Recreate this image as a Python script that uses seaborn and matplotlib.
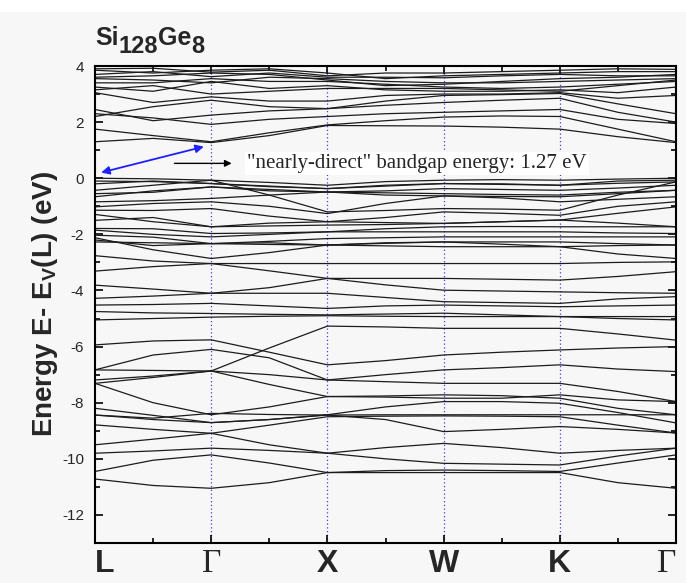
import numpy as np
import pandas as pd
import matplotlib
matplotlib.use("Agg")
import matplotlib.pyplot as plt
import seaborn as sns

# k-path: high-symmetry points and the sample positions along it
k_labels = ["L", "Γ", "X", "W", "K", "Γ"]
k_samples = [0, 0.5, 1, 1.5, 2, 2.5, 3, 3.5, 4, 4.5, 5]

# energies (eV) at L, mid, Γ, mid, X, mid, W, mid, K, mid, Γ
conduction = [
    [1.30, 1.42, 1.27, 1.52, 1.88, 1.87, 1.86, 1.82, 1.75, 1.48, 1.27],
    [1.75, 1.52, 1.30, 1.62, 1.90, 2.05, 2.18, 2.22, 2.20, 1.75, 1.30],
    [2.30, 2.15, 1.92, 2.10, 2.20, 2.30, 2.35, 2.40, 2.45, 2.10, 1.95],
    [2.45, 2.05, 2.25, 2.40, 2.48, 2.60, 2.70, 2.78, 2.85, 2.35, 2.00],
    [2.20, 2.55, 2.78, 2.55, 2.48, 2.75, 2.95, 2.98, 3.02, 2.65, 2.30],
    [3.05, 2.70, 2.90, 2.75, 2.75, 2.95, 3.00, 3.00, 3.05, 2.85, 2.95],
    [3.15, 3.30, 3.00, 3.10, 3.20, 3.20, 3.20, 3.15, 3.10, 3.30, 3.50],
    [3.25, 3.10, 3.45, 3.20, 3.30, 3.15, 3.10, 3.10, 3.15, 3.05, 3.25],
    [3.40, 3.40, 3.55, 3.45, 3.45, 3.35, 3.25, 3.20, 3.25, 3.35, 3.45],
    [3.55, 3.50, 3.40, 3.60, 3.55, 3.45, 3.40, 3.40, 3.45, 3.50, 3.55],
    [3.60, 3.65, 3.75, 3.70, 3.50, 3.30, 3.35, 3.45, 3.55, 3.60, 3.70],
    [3.70, 3.80, 3.62, 3.75, 3.60, 3.60, 3.58, 3.65, 3.70, 3.65, 3.65],
    [3.85, 3.75, 3.85, 3.90, 3.75, 3.55, 3.65, 3.70, 3.75, 3.80, 3.80],
    [3.90, 3.92, 3.78, 3.85, 3.65, 3.75, 3.75, 3.80, 3.85, 3.90, 3.88],
]

valence_top = [
    [0.00, -0.02, -0.07, -0.15, -0.25, -0.12, -0.07, -0.05, -0.07, -0.03, 0.00],
    [-0.10, -0.12, -0.19, -0.30, -0.37, -0.28, -0.19, -0.22, -0.25, -0.18, -0.13],
    [-0.20, -0.10, -0.19, -0.28, -0.37, -0.25, -0.19, -0.20, -0.25, -0.10, -0.07],
    [-0.43, -0.25, -0.07, -0.60, -1.20, -1.15, -1.08, -1.10, -1.14, -0.60, -0.13],
    [-0.55, -0.50, -0.31, -0.45, -0.49, -0.60, -0.63, -0.65, -0.66, -0.55, -0.43],
    [-0.66, -0.45, -0.31, -0.40, -0.49, -0.45, -0.37, -0.40, -0.43, -0.35, -0.25],
    [-0.84, -0.80, -0.72, -0.60, -0.49, -0.52, -0.55, -0.58, -0.60, -0.50, -0.43],
    [-1.02, -0.90, -0.84, -1.00, -1.26, -0.90, -0.63, -0.70, -0.84, -0.75, -0.66],
    [-1.14, -1.15, -1.08, -1.35, -1.55, -1.40, -1.20, -1.25, -1.32, -1.00, -0.84],
    [-1.29, -1.55, -1.73, -1.70, -1.67, -1.65, -1.61, -1.55, -1.49, -1.25, -1.02],
    [-1.50, -1.40, -1.73, -1.60, -1.55, -1.58, -1.61, -1.55, -1.49, -1.60, -1.73],
    [-1.79, -1.80, -1.97, -1.95, -1.91, -1.80, -1.73, -1.72, -1.73, -1.73, -1.73],
    [-1.85, -2.00, -2.09, -2.00, -1.91, -1.91, -1.91, -1.91, -1.91, -1.95, -1.97],
    [-2.03, -2.10, -2.33, -2.25, -2.15, -2.12, -2.09, -2.09, -2.09, -2.09, -2.09],
    [-2.12, -2.55, -2.86, -2.65, -2.38, -2.32, -2.27, -2.27, -2.27, -2.33, -2.38],
    [-2.20, -2.40, -2.33, -2.30, -2.38, -2.30, -2.27, -2.35, -2.44, -2.40, -2.38],
    [-2.27, -2.30, -2.33, -2.36, -2.38, -2.41, -2.44, -2.44, -2.44, -2.70, -2.86],
    [-2.76, -2.95, -3.04, -3.04, -3.04, -3.04, -3.04, -3.04, -3.04, -3.00, -2.98],
    [-3.31, -3.15, -3.04, -3.30, -3.57, -3.57, -3.57, -3.60, -3.63, -3.50, -3.33],
    [-3.81, -3.95, -4.10, -3.90, -3.57, -3.80, -3.99, -4.02, -4.05, -4.08, -4.10],
    [-4.28, -4.20, -4.10, -4.10, -4.10, -4.25, -4.40, -4.43, -4.46, -4.30, -4.22],
]

valence_mid = [
    [-4.52, -4.50, -4.46, -4.55, -4.64, -4.55, -4.52, -4.55, -4.58, -4.55, -4.52],
    [-4.75, -4.80, -4.82, -4.85, -4.87, -4.84, -4.81, -4.87, -4.93, -4.93, -4.93],
    [-5.05, -5.00, -4.95, -4.92, -4.90, -4.92, -4.93, -4.93, -4.93, -5.00, -5.05],
    [-5.94, -5.80, -5.76, -6.20, -6.65, -6.50, -6.30, -6.20, -6.12, -6.05, -6.00],
    [-6.83, -6.30, -6.10, -6.40, -7.19, -7.00, -6.83, -6.75, -6.65, -6.80, -6.89],
    [-7.31, -7.10, -6.87, -6.05, -5.27, -5.30, -5.35, -5.35, -5.35, -5.55, -5.77],
    [-6.83, -6.85, -6.87, -7.00, -7.19, -7.25, -7.31, -7.31, -7.31, -7.60, -7.96],
    [-7.19, -7.05, -6.87, -7.35, -7.78, -7.80, -7.84, -7.84, -7.72, -7.90, -7.96],
    [-7.31, -8.00, -8.43, -8.15, -7.78, -7.76, -7.72, -7.75, -7.84, -8.20, -8.43],
]

valence_low = [
    [-8.20, -8.45, -8.71, -8.60, -8.43, -8.15, -7.96, -7.96, -8.02, -8.35, -8.72],
    [-8.44, -8.55, -8.38, -8.42, -8.44, -8.43, -8.43, -8.43, -8.43, -8.43, -8.43],
    [-8.44, -8.60, -8.71, -8.60, -8.44, -8.60, -9.03, -8.95, -8.85, -8.95, -9.08],
    [-8.79, -8.95, -9.09, -9.50, -9.80, -9.60, -9.45, -9.60, -9.80, -9.70, -9.62],
    [-9.50, -9.30, -9.09, -8.80, -8.50, -8.48, -8.47, -8.48, -8.50, -8.80, -9.08],
    [-9.80, -9.72, -9.62, -9.70, -9.80, -10.00, -10.16, -10.19, -10.22, -9.90, -9.62],
    [-10.45, -10.05, -9.86, -10.15, -10.49, -10.42, -10.40, -10.42, -10.45, -10.15, -9.86],
    [-10.72, -10.95, -11.05, -10.85, -10.49, -10.49, -10.49, -10.49, -10.49, -10.85, -11.05],
]

GAP_TEXT = '"nearly-direct" bandgap energy: 1.27 eV'
BG = "#f7f7f7"

# long table for seaborn: one row per (band, k)
rows = []
for name, group in [("c", conduction), ("vt", valence_top), ("vm", valence_mid), ("vl", valence_low)]:
    for i, band in enumerate(group):
        for k, e in zip(k_samples, band):
            rows.append((f"{name}{i}", k, e))
df = pd.DataFrame(rows, columns=["band", "k", "E"])

sns.set_theme(style="ticks")
plt.rcParams["font.family"] = ["Liberation Sans", "DejaVu Sans"]
plt.rcParams["axes.unicode_minus"] = False
plt.rcParams["mathtext.fontset"] = "custom"
plt.rcParams["mathtext.bf"] = "Liberation Sans:bold"
plt.rcParams["mathtext.rm"] = "Liberation Sans"

fig = plt.figure(figsize=(6.86, 5.83), dpi=100, facecolor=BG)
ax = fig.add_axes([95 / 686, 1 - 543 / 583, 581 / 686, 477 / 583])
ax.set_facecolor(BG)

# dotted guides at the inner k-points
for k in range(1, 5):
    ax.axvline(k, color="#3b3bff", ls=(0, (1, 2)), lw=0.9, zorder=0)

sns.lineplot(data=df, x="k", y="E", units="band", estimator=None,
             color="#1c1c1c", lw=0.9, legend=False, ax=ax)

ax.set_xlim(0, 5)
ax.set_ylim(-13, 4)
ax.set_xticks(range(6))
ax.set_xticklabels(k_labels)
ax.set_xticks([0.5, 1.5, 2.5, 3.5, 4.5], minor=True)
ax.set_yticks(range(-12, 5, 2))
ax.set_yticklabels([str(v) for v in range(-12, 5, 2)])
ax.set_yticks(range(-13, 4, 2), minor=True)
ax.set_xlabel("")
ax.set_ylabel("Energy E- E$_\\mathbf{V}$(L) (eV)", fontsize=20, fontweight="bold")
ax.yaxis.set_label_coords(-0.06, 0.5)

ax.tick_params(which="both", direction="in", top=True, right=True, width=1.2, color="black")
ax.tick_params(which="major", length=6)
ax.tick_params(which="minor", length=3.5)
ax.tick_params(axis="y", labelsize=11, pad=8)
ax.tick_params(axis="x", labelsize=23, pad=4)
xlabs = ax.get_xticklabels()
for lab in xlabs:
    if lab.get_text() == "Γ":
        lab.set_fontfamily("Liberation Serif")
        lab.set_fontsize(24)
    else:
        lab.set_fontweight("bold")
xlabs[0].set_horizontalalignment("left")
xlabs[-1].set_horizontalalignment("right")
for sp in ax.spines.values():
    sp.set_linewidth(1.5)
    sp.set_color("black")

# gap annotation
ax.annotate("", xy=(0.03, 0.18), xytext=(0.96, 1.15),
            arrowprops=dict(arrowstyle="<|-|>", color="#1f1fff", lw=1.3, mutation_scale=12))
ax.annotate("", xy=(1.20, 0.53), xytext=(0.66, 0.53),
            arrowprops=dict(arrowstyle="-|>", color="black", lw=1, mutation_scale=10))
ax.text(1.31, 0.53, GAP_TEXT, family="Liberation Serif", fontsize=15, va="center",
        bbox=dict(fc="white", ec="none", pad=1.5))

# title Si128Ge8, subscripts nearly full size
t1 = fig.text(95 / 686, 1 - 45 / 583, "Si", fontsize=18, fontweight="bold", va="baseline")
t2 = ax.annotate("128", xy=(1, 0), xycoords=t1, xytext=(0, -6), textcoords="offset points",
                 fontsize=17, fontweight="bold", va="bottom", annotation_clip=False)
t3 = ax.annotate("Ge", xy=(1, 0), xycoords=t2, xytext=(0, 6), textcoords="offset points",
                 fontsize=18, fontweight="bold", va="bottom", annotation_clip=False)
ax.annotate("8", xy=(1, 0), xycoords=t3, xytext=(0, -6), textcoords="offset points",
            fontsize=17, fontweight="bold", va="bottom", annotation_clip=False)

# white strip along the top edge as in the source image
fig.patches.append(plt.Rectangle((0, 1 - 12 / 583), 1, 12 / 583, transform=fig.transFigure,
                                 fc="white", ec="none", zorder=-1))

fig.savefig("out.png", dpi=100, facecolor=BG)
